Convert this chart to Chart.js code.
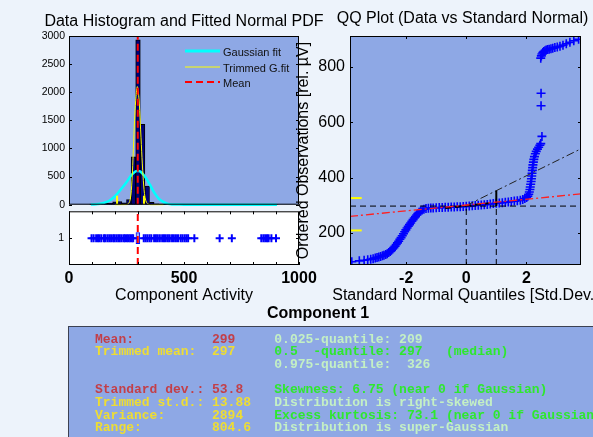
<!DOCTYPE html>
<html><head><meta charset="utf-8">
<script src="https://cdn.jsdelivr.net/npm/chart.js@4.4.1/dist/chart.umd.min.js"></script>
<style>
html,body{margin:0;padding:0;width:593px;height:437px;overflow:hidden;background:#edf3fb;}
#wrap{position:relative;width:593px;height:437px;overflow:hidden;}
canvas{position:absolute;}
#comp{position:absolute;left:218px;width:200px;top:305px;text-align:center;font:bold 16px/16px "Liberation Sans",Arial,sans-serif;color:#000;}
#stats{position:absolute;left:68px;top:326px;width:560px;height:140px;background:#8ea8e5;border:1px solid #3c4152;}
.col{position:absolute;top:6.5px;margin:0;font:bold 13px/12.67px "Liberation Mono","DejaVu Sans Mono",monospace;white-space:pre;}
</style></head>
<body><div id="wrap">
<canvas id="cHist" width="368" height="215" style="left:0;top:0;width:368px;height:215px"></canvas>
<canvas id="cBox" width="368" height="110" style="left:0;top:200px;width:368px;height:110px"></canvas>
<canvas id="cQQ" width="355" height="310" style="left:285px;top:0;width:355px;height:310px"></canvas>
<div id="comp">Component 1</div>
<div id="stats"></div>
</div>
<script>
// ---------- data ----------
const histBinCenters = [100,120,140,160,180,200,220,240,260,280,300,320,340,360,380,400,420,440,460,480,500,520,540,560,580,600,620,640,660,680,700,720,740,760,780,800,820,840,860,880,900];
const histCounts     = [10,12,12,25,30,50,55,35,90,850,2930,1430,330,40,15,10,8,6,5,5,4,4,2,1,0,0,0,0,1,0,1,0,0,0,0,0,0,4,6,8,3];
const gaussFitX = [95,100,125,150,175,200,225,250,270,290,300,310,330,350,370,390,410,430,450,480,520,600,700,800,904];
const gaussFitY = [2,3,12,30,70,150,270,400,520,595,600,590,500,370,220,110,50,15,5,2,0,0,0,0,0];
const trimFitX = [200,250,260,266,271,276,280,285,290,297,304,310,316,322,328,334,342,355,410];
const trimFitY = [0,2,25,90,250,600,1000,1500,1850,2100,1900,1450,950,500,200,70,15,0,0];
const meanValue = 299;
const medianValue = 297;
const stdValue = 53.8;
const quantileValues = [209, 326];
const quantileMarkHeight = 160;
const boxQuartiles = [291, 308];
const boxOutliers = [98,107,118,126,133,141,152,158,167,175,183,192,198,206,214,221,229,238,244,252,259,266,273,279,
  325,333,341,350,358,370,378,386,395,405,413,421,430,438,448,456,465,474,485,493,502,510,518,545,655,708,836,845,853,861,868,880,900];
const qqQuantiles = [-3.81,-3.56,-3.40,-3.28,-3.18,-3.10,-3.03,-2.97,-2.91,-2.85,-2.79,-2.74,-2.68,-2.63,-2.58,-2.53,-2.49,-2.45,-2.41,-2.37,-2.33,-2.29,-2.25,-2.21,-2.17,-2.13,-2.09,-2.05,-2.01,-1.97,-1.93,-1.89,-1.85,-1.81,-1.77,-1.73,-1.69,-1.65,-1.61,-1.57,-1.52,-1.47,-1.41,-1.34,-1.26,-1.18,-1.10,-1.00,-0.90,-0.80,-0.70,-0.60,-0.50,-0.40,-0.30,-0.20,-0.10,0.00,0.10,0.20,0.30,0.40,0.50,0.60,0.70,0.80,0.90,1.00,1.10,1.20,1.30,1.40,1.50,1.60,1.70,1.80,1.88,1.95,2.01,2.05,2.08,2.10,2.12,2.13,2.145,2.16,2.17,2.18,2.19,2.20,2.21,2.22,2.235,2.25,2.27,2.30,2.33,2.37,2.41,2.45,2.48,2.52,2.49,2.49,2.48,2.50,2.52,2.55,2.58,2.62,2.66,2.71,2.76,2.82,2.88,2.95,3.03,3.12,3.22,3.33,3.45,3.58,3.74];
const qqObserved  = [96,99,101,103,105,107,109,111,113,115,117,119,122,125,129,133,137,142,147,152,158,164,170,177,183,190,197,204,211,218,224,230,236,242,248,254,259,265,270,275,279,283,286,288,289,290,290.5,291,291.5,292,292.5,293,293.5,294,294.5,295,295.5,296,297,298,299,300,301,302,303,304.5,306,307,308,309.5,311,312,313.5,315,316.5,318.5,321,324,328,333,340,348,357,366,376,386,396,406,416,426,436,446,456,466,476,486,495,503,510,517,523,549,660,705,832,840,847,852,856,859,861,863,864,866,868,870,872,875,879,884,889,895,900];
const qqRedLineX = [-3.87, 3.82];
const qqRedLineY = [260, 341];
const qqSdLineX = [0, 3.74];
const qqSdLineY = [299, 500];
const qqQuartSegX = [-0.7, 0.75];
const qqQuartSegY = [290, 307];
const histXLimits = [0, 1000];
const histYLimits = [0, 3000];
const boxYLimits = [0.5, 1.5];
const qqXLimits = [-3.87, 3.82];
const qqYLimits = [84, 912];
const histXTicks = [0, 500, 1000];
const histYTicks = [0, 500, 1000, 1500, 2000, 2500, 3000];
const boxYTicks = [1];
const qqXTicks = [-2, 0, 2];
const qqYTicks = [200, 400, 600, 800];
const legendLabels = ['Gaussian fit', 'Trimmed G.fit', 'Mean'];
const statLabels = ['Mean:', 'Trimmed mean:', '', '', 'Standard dev.:', 'Trimmed st.d.:', 'Variance:', 'Range:'];
const statValues = ['299', '297', '', '', '53.8', '13.88', '2894', '804.6'];
const statNotes = ['0.025-quantile: 209', '0.5  -quantile: 297   (median)', '0.975-quantile:  326', '',
  'Skewness: 6.75 (near 0 if Gaussian)', 'Distribution is right-skewed', 'Excess kurtosis: 73.1 (near 0 if Gaussian)', 'Distribution is super-Gaussian'];

// ---------- helpers ----------
Chart.defaults.font.family = "'Liberation Sans', Arial, Helvetica, sans-serif";
Chart.defaults.color = '#000';
const pts = (xs, ys) => xs.map((x, i) => ({x, y: ys[i]}));
const setTicks = arr => s => { s.ticks = arr.map(v => ({value: v})); };
const plain = v => String(v);

const framePlugin = {
  id: 'frame',
  beforeDraw(chart, args, o) {
    const {ctx, chartArea: a} = chart;
    ctx.save(); ctx.fillStyle = o.bg; ctx.fillRect(a.left, a.top, a.width, a.height); ctx.restore();
  },
  afterDatasetsDraw(chart, args, o) {
    const {ctx, chartArea: a, scales} = chart;
    ctx.save();
    ctx.strokeStyle = '#000'; ctx.lineWidth = 1; ctx.setLineDash([]);
    ctx.strokeRect(a.left + 0.5, a.top + 0.5, a.width - 1, a.height - 1);
    const L = 3;
    ctx.beginPath();
    (o.xTicks || []).forEach(v => {
      const p = Math.round(scales.x.getPixelForValue(v)) + 0.5;
      ctx.moveTo(p, a.bottom); ctx.lineTo(p, a.bottom - L);
      ctx.moveTo(p, a.top); ctx.lineTo(p, a.top + L);
    });
    (o.yTicks || []).forEach(v => {
      const p = Math.round(scales.y.getPixelForValue(v)) + 0.5;
      ctx.moveTo(a.left, p); ctx.lineTo(a.left + L, p);
      ctx.moveTo(a.right, p); ctx.lineTo(a.right - L, p);
    });
    ctx.stroke();
    ctx.restore();
  }
};

const legendPlugin = {
  id: 'histLegend',
  afterDatasetsDraw(chart, args, o) {
    const {ctx, chartArea: a} = chart;
    ctx.save();
    o.items.forEach((di, k) => {
      const ds = chart.data.datasets[di];
      const y = a.top + o.rows[k];
      ctx.beginPath();
      ctx.strokeStyle = ds.borderColor;
      ctx.lineWidth = o.widths[k];
      ctx.setLineDash(ds.borderDash || []);
      ctx.moveTo(a.left + o.x0, y); ctx.lineTo(a.left + o.x1, y);
      ctx.stroke();
      ctx.setLineDash([]);
      ctx.fillStyle = '#111';
      ctx.font = "11px 'Liberation Sans', Arial, sans-serif";
      ctx.textBaseline = 'middle'; ctx.textAlign = 'left';
      ctx.fillText(ds.label, a.left + o.tx, y + 1.5);
    });
    ctx.restore();
  }
};

// titles drawn centred on the plot area, without width compression
const textPlugin = {
  id: 'texts',
  afterDraw(chart, args, o) {
    const {ctx, chartArea: a} = chart;
    ctx.save();
    ctx.fillStyle = '#000';
    ctx.textAlign = 'center'; ctx.textBaseline = 'middle';
    (o.items || []).forEach(it => {
      ctx.font = (it.weight || 'normal') + " 16px 'Liberation Sans', Arial, sans-serif";
      const y = it.edge === 'top' ? a.top - it.dy : a.bottom + it.dy;
      ctx.fillText(it.text, (a.left + a.right) / 2 + (it.dx || 0), y);
    });
    ctx.restore();
  }
};

const common = {responsive: false, animation: false, events: [], maintainAspectRatio: false};
const noGrid = {display: false, drawTicks: false};

// ---------- histogram ----------
new Chart(document.getElementById('cHist'), {
  type: 'scatter',
  data: {datasets: [
    {type: 'line', label: legendLabels[0], data: pts(gaussFitX, gaussFitY), borderColor: '#00ffff', borderWidth: 2.5, pointRadius: 0, tension: 0.35, order: 3, clip: 3},
    {type: 'line', label: legendLabels[1], data: pts(trimFitX, trimFitY), borderColor: '#ffff00', borderWidth: 1, pointRadius: 0, tension: 0.3, order: 2, clip: 3},
    {type: 'line', label: legendLabels[2], data: [{x: meanValue, y: histYLimits[0]}, {x: meanValue, y: histYLimits[1]}], borderColor: '#ff0000', borderWidth: 2, borderDash: [7, 4], pointRadius: 0, order: 0},
    {type: 'bar', label: 'Histogram', data: pts(histBinCenters, histCounts), backgroundColor: '#00007a', borderColor: '#000000', borderWidth: 1, barPercentage: 1, categoryPercentage: 1, order: 5},
    {type: 'line', label: 'q low', data: [{x: quantileValues[0], y: 0}, {x: quantileValues[0], y: quantileMarkHeight}], borderColor: '#ffff00', borderWidth: 2, pointRadius: 0, order: 1},
    {type: 'line', label: 'q high', data: [{x: quantileValues[1], y: 0}, {x: quantileValues[1], y: quantileMarkHeight}], borderColor: '#ffff00', borderWidth: 2, pointRadius: 0, order: 1}
  ]},
  plugins: [framePlugin, legendPlugin, textPlugin],
  options: Object.assign({}, common, {
    layout: {padding: {left: 0, right: 69, top: 36, bottom: 7}},
    plugins: {
      legend: {display: false}, tooltip: {enabled: false},
      frame: {bg: '#8ea8e5', yTicks: histYTicks},
      histLegend: {items: [0, 1, 2], rows: [15, 31, 46], widths: [3, 1, 2], x0: 116, x1: 151, tx: 154},
      texts: {items: [{text: 'Data Histogram and Fitted Normal PDF', edge: 'top', dy: 14.5}]}
    },
    scales: {
      x: {type: 'linear', offset: false, min: histXLimits[0], max: histXLimits[1], display: false},
      y: {type: 'linear', offset: false, min: histYLimits[0], max: histYLimits[1], afterBuildTicks: setTicks(histYTicks), afterFit: s => { s.width = 69; },
          grid: noGrid, border: {display: false}, ticks: {font: {size: 10.5}, color: '#000', padding: 4, callback: plain}}
    }
  })
});

// ---------- box plot ----------
new Chart(document.getElementById('cBox'), {
  type: 'scatter',
  data: {datasets: [
    {type: 'line', label: 'Mean', data: [{x: meanValue, y: boxYLimits[0]}, {x: meanValue, y: boxYLimits[1]}], borderColor: '#ff0000', borderWidth: 2, borderDash: [7, 4], pointRadius: 0, order: 0},
    {type: 'bar', label: 'Box', indexAxis: 'y', data: [{x: boxQuartiles, y: 1}], backgroundColor: '#a9b8ee', borderColor: '#0000ff', borderWidth: 1, borderSkipped: false, barThickness: 11, order: 2},
    {type: 'scatter', label: 'Outliers', data: boxOutliers.map(v => ({x: v, y: 1})), pointStyle: 'cross', pointRadius: 4, pointBorderColor: '#0000ff', pointBorderWidth: 2, order: 1}
  ]},
  plugins: [framePlugin],
  options: Object.assign({}, common, {
    layout: {padding: {left: 0, right: 69, top: 8, bottom: 0}},
    plugins: {legend: {display: false}, tooltip: {enabled: false}, frame: {bg: '#ffffff', xTicks: [0,100,200,300,400,500,600,700,800,900,1000], yTicks: boxYTicks}},
    scales: {
      x: {type: 'linear', offset: false, min: histXLimits[0], max: histXLimits[1], afterBuildTicks: setTicks(histXTicks), afterFit: s => { s.height = 45; },
          grid: noGrid, border: {display: false}, ticks: {font: {size: 16, weight: 'bold'}, color: '#000', padding: 3.5, maxRotation: 0, autoSkip: false, callback: plain},
          title: {display: true, text: 'Component Activity', color: '#000', font: {size: 16}, padding: {top: 0, bottom: 4.4}}},
      y: {type: 'linear', offset: false, min: boxYLimits[0], max: boxYLimits[1], afterBuildTicks: setTicks(boxYTicks), afterFit: s => { s.width = 69; },
          grid: noGrid, border: {display: false}, ticks: {font: {size: 10.5}, color: '#000', padding: 5, callback: plain}}
    }
  })
});

// ---------- QQ plot ----------
new Chart(document.getElementById('cQQ'), {
  type: 'scatter',
  data: {datasets: [
    {type: 'scatter', label: 'Data', data: pts(qqQuantiles, qqObserved), pointStyle: 'cross', pointRadius: 4.5, pointBorderColor: '#0000ff', pointBorderWidth: 1.6, order: 5},
    {type: 'line', label: 'median', data: [{x: qqXLimits[0], y: medianValue}, {x: qqXLimits[1], y: medianValue}], borderColor: '#000', borderWidth: 1, borderDash: [6, 4], pointRadius: 0, order: 2},
    {type: 'line', label: 'x0', data: [{x: 0, y: qqYLimits[0]}, {x: 0, y: medianValue}], borderColor: '#000', borderWidth: 1, borderDash: [6, 4], pointRadius: 0, order: 2},
    {type: 'line', label: 'x1', data: [{x: 1, y: qqYLimits[0]}, {x: 1, y: medianValue}], borderColor: '#000', borderWidth: 1, borderDash: [6, 4], pointRadius: 0, order: 2},
    {type: 'line', label: 'sd', data: [{x: 1, y: medianValue}, {x: 1, y: meanValue + stdValue}], borderColor: '#000', borderWidth: 2, pointRadius: 0, order: 1},
    {type: 'line', label: 'sd line', data: pts(qqSdLineX, qqSdLineY), borderColor: '#222', borderWidth: 1, borderDash: [8, 3, 2, 3], pointRadius: 0, order: 1},
    {type: 'line', label: 'fit line', data: pts(qqRedLineX, qqRedLineY), borderColor: '#ff2020', borderWidth: 1.3, borderDash: [8, 3, 2, 3], pointRadius: 0, order: 0},
    {type: 'line', label: 'quartiles', data: pts(qqQuartSegX, qqQuartSegY), borderColor: '#000', borderWidth: 2, borderDash: [6, 4], pointRadius: 0, order: 1},
    {type: 'line', label: 'q low', data: [{x: qqXLimits[0], y: quantileValues[0]}, {x: -3.48, y: quantileValues[0]}], borderColor: '#ffff00', borderWidth: 2, pointRadius: 0, order: 0},
    {type: 'line', label: 'q high', data: [{x: qqXLimits[0], y: quantileValues[1]}, {x: -3.48, y: quantileValues[1]}], borderColor: '#ffff00', borderWidth: 2, pointRadius: 0, order: 0}
  ]},
  plugins: [framePlugin, textPlugin],
  options: Object.assign({}, common, {
    layout: {padding: {left: 0, right: 59, top: 36, bottom: 0}},
    plugins: {
      legend: {display: false}, tooltip: {enabled: false},
      frame: {bg: '#8ea8e5', xTicks: qqXTicks, yTicks: qqYTicks},
      texts: {items: [
        {text: 'QQ Plot (Data vs Standard Normal)', edge: 'top', dy: 17.5, dx: -3},
        {text: 'Standard Normal Quantiles [Std.Dev.]', edge: 'bottom', dy: 31}
      ]}
    },
    scales: {
      x: {type: 'linear', offset: false, min: qqXLimits[0], max: qqXLimits[1], afterBuildTicks: setTicks(qqXTicks), afterFit: s => { s.height = 45; },
          grid: noGrid, border: {display: false}, ticks: {font: {size: 16, weight: 'bold'}, color: '#000', padding: 3.5, maxRotation: 0, autoSkip: false, callback: plain}},
      y: {type: 'linear', offset: false, min: qqYLimits[0], max: qqYLimits[1], afterBuildTicks: setTicks(qqYTicks), afterFit: s => { s.width = 65; },
          grid: noGrid, border: {display: false}, ticks: {font: {size: 16}, color: '#000', padding: 5, callback: plain},
          title: {display: true, text: 'Ordered Observations [rel. µV]', color: '#000', font: {size: 16}, padding: {top: 8.9, bottom: 0}}}
    }
  })
});

// ---------- statistics panel ----------
const red = '#c33f48', yel = '#eedd33', lg = '#c4f0c4', bg = '#2ee82e';
const col12Colors = [red, yel, red, red, red, yel, yel, yel];
const col3Colors = [lg, bg, lg, lg, bg, lg, bg, lg];
function makeCol(lines, colors, left) {
  const pre = document.createElement('pre');
  pre.className = 'col';
  pre.style.left = left + 'px';
  lines.forEach((t, i) => {
    const sp = document.createElement('span');
    sp.style.color = colors[i];
    sp.textContent = t;
    pre.appendChild(sp);
    if (i < lines.length - 1) pre.appendChild(document.createTextNode('\n'));
  });
  document.getElementById('stats').appendChild(pre);
}
makeCol(statLabels, col12Colors, 26);
makeCol(statValues, col12Colors, 143);
makeCol(statNotes, col3Colors, 205.3);
</script>
</body></html>
